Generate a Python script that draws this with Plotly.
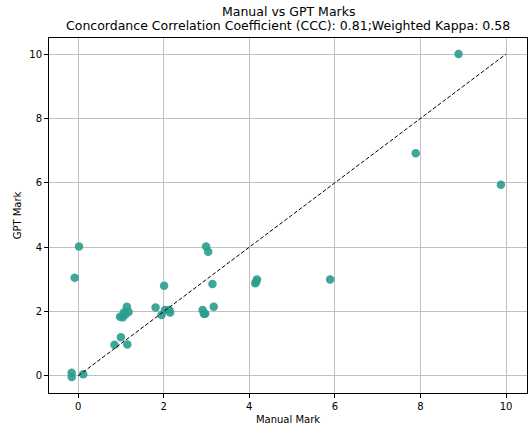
import plotly.graph_objects as go

manual = [-0.15, -0.15, 0.12, 0.02, -0.08, 0.85, 1.0, 1.15,
          0.98, 1.04, 1.07, 1.14, 1.18, 1.1,
          1.81, 2.01, 1.95, 2.03, 2.13, 2.15,
          2.91, 2.94, 2.97, 2.99, 3.04, 3.14, 3.17,
          4.14, 4.16, 4.18, 5.89, 7.89, 8.89, 9.88]
gpt = [-0.03, 0.1, 0.05, 4.02, 3.05, 0.97, 1.2, 0.98,
       1.84, 1.82, 1.97, 2.15, 1.99, 1.9,
       2.13, 2.8, 1.89, 2.05, 2.05, 1.97,
       2.05, 1.93, 1.93, 4.02, 3.86, 2.86, 2.15,
       2.88, 2.93, 3.0, 3.0, 6.92, 10.0, 5.94]
line_x = [0, 10]
line_y = [0, 10]
title_lines = ["Manual vs GPT Marks",
               "Concordance Correlation Coefficient (CCC): 0.81;Weighted Kappa: 0.58"]

fig = go.Figure()
fig.add_trace(go.Scatter(x=manual, y=gpt, mode="markers",
                         marker=dict(color="#2a9d8f", size=8.5, opacity=0.9, line=dict(width=0)),
                         showlegend=False))
fig.add_trace(go.Scatter(x=line_x, y=line_y, mode="lines",
                         line=dict(color="black", width=1, dash="4px,2px"), showlegend=False))

axis_common = dict(showline=True, linecolor="black", linewidth=1, mirror=True,
                   ticks="outside", ticklen=4, tickcolor="black", automargin=False,
                   showgrid=True, gridcolor="#c0c0c0", gridwidth=1, zeroline=False,
                   tickfont=dict(size=10, color="black"))
fig.update_xaxes(range=[-0.68, 10.49], tickvals=[0, 2, 4, 6, 8, 10],
                 title=dict(text="Manual Mark", font=dict(size=10, color="black"), standoff=4),
                 **axis_common)
fig.update_yaxes(range=[-0.53, 10.5], tickvals=[0, 2, 4, 6, 8, 10],
                 title=dict(text="GPT Mark", font=dict(size=10, color="black"), standoff=5),
                 **axis_common)
fig.add_annotation(text=title_lines[0], xref="paper", yref="paper", x=0.5, y=1.076,
                   xanchor="center", yanchor="middle", showarrow=False, font=dict(size=12.5))
fig.add_annotation(text=title_lines[1], xref="paper", yref="paper", x=0.5, y=1.034,
                   xanchor="center", yanchor="middle", showarrow=False, font=dict(size=12.5))
fig.update_layout(
    width=532, height=432,
    margin=dict(l=49, r=5, t=38, b=39),
    plot_bgcolor="white", paper_bgcolor="white",
    font=dict(family="DejaVu Sans", color="black"),
)
fig.write_html("out.html", config={"displayModeBar": False},
               post_script="document.body.style.margin='0';document.body.style.overflow='hidden';")
